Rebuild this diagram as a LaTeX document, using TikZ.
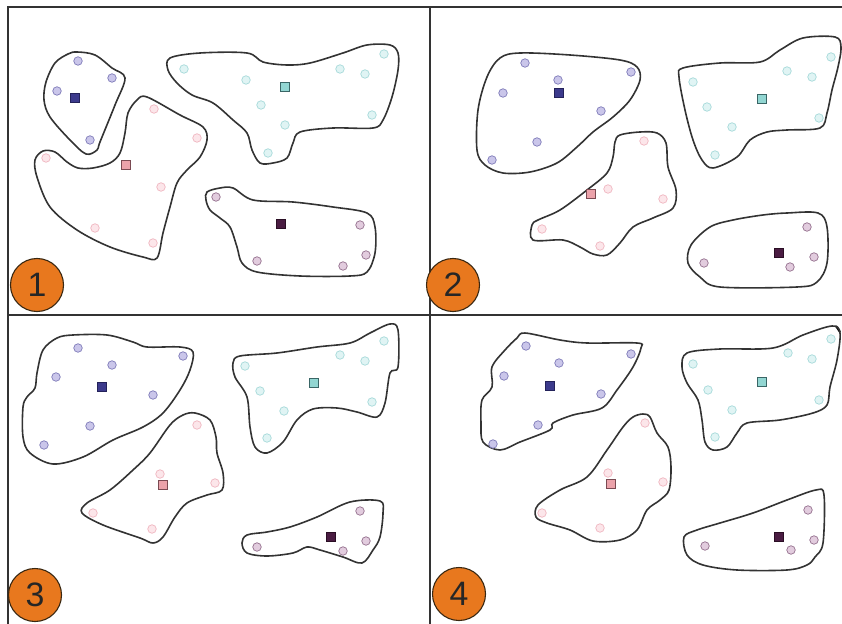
\documentclass[tikz,border=0pt]{standalone}
\usepackage{fontspec}
\setmainfont{Liberation Sans}
\begin{document}
\begin{tikzpicture}[x=1bp,y=-1bp,
  frame/.style={line width=1.4bp,draw=black!80},
  blob/.style={line width=1.6bp,draw=black!80,smooth cycle,tension=0.55},
  dotbase/.style={circle,inner sep=0pt,minimum size=8.5bp,line width=0.7bp},
  bdot/.style={dotbase,fill=bdF,draw=bdD},
  pdot/.style={dotbase,fill=pdF,draw=pdD},
  cdot/.style={dotbase,fill=cdF,draw=cdD},
  mdot/.style={dotbase,fill=mdF,draw=mdD},
  sqbase/.style={rectangle,inner sep=0pt,minimum size=8.5bp,line width=0.7bp},
  bsq/.style={sqbase,fill=bsF,draw=bsD},
  psq/.style={sqbase,fill=psF,draw=psD},
  csq/.style={sqbase,fill=csF,draw=csD},
  msq/.style={sqbase,fill=msF,draw=msD},
  badge/.style={circle,fill=badgeorange,draw=badgeline,line width=1.1bp,minimum size=53bp,inner sep=0pt,
    font=\fontsize{34}{34}\selectfont,text=black!85}
]
\definecolor{bdF}{HTML}{CAC6EA}\definecolor{bdD}{HTML}{7E7AB8}
\definecolor{pdF}{HTML}{FCE6EA}\definecolor{pdD}{HTML}{F0B6C0}
\definecolor{cdF}{HTML}{E0F4F4}\definecolor{cdD}{HTML}{A6DADA}
\definecolor{mdF}{HTML}{E2CCDE}\definecolor{mdD}{HTML}{94708E}
\definecolor{bsF}{HTML}{3C3A8C}\definecolor{bsD}{HTML}{24225A}
\definecolor{psF}{HTML}{EBA2AA}\definecolor{psD}{HTML}{7A4A52}
\definecolor{csF}{HTML}{92D6D2}\definecolor{csD}{HTML}{3A6666}
\definecolor{msF}{HTML}{4A1C42}\definecolor{msD}{HTML}{2A0E24}
\definecolor{badgeorange}{HTML}{E8781E}\definecolor{badgeline}{HTML}{3A2812}
\useasboundingbox (0,0) rectangle (842,624);
\fill[white] (0,0) rectangle (842,624);
% frame
\coordinate (tl) at (8,7); \coordinate (tr) at (842,7);
\coordinate (bl) at (8,624); \coordinate (mt) at (430,7); \coordinate (mb) at (430,624);
\coordinate (ml) at (8,315); \coordinate (mr) at (842,315);
\draw[frame] (tr) -- (tl) -- (bl);
\draw[frame] (mt) -- (mb);
\draw[frame] (ml) -- (mr);
\draw[line width=2bp] (836,326) -- (840,332);

% ---------- Panel 1 ----------
\draw[blob] plot coordinates {(77,52) (95,55) (112,68) (125,78) (115,105) (100,142) (97,150) (86,154) (70,140) (50,117) (44,100) (46,82) (55,63) (68,54)};
\draw[blob] plot coordinates {(147,97) (180,115) (203,127) (207,140) (200,157) (187,170) (177,183) (170,207) (163,233) (157,258) (143,257) (110,247) (77,230) (50,207) (37,177) (35,160) (43,151) (55,152) (67,162) (78,168) (93,168) (110,163) (120,153) (125,133) (128,113) (137,100)};
\draw[blob] plot coordinates {(170,58) (200,53) (247,53) (263,62) (287,65) (310,63) (343,53) (367,45) (390,45) (398,53) (398,70) (392,97) (383,120) (373,128) (333,128) (300,132) (293,143) (287,158) (273,163) (260,163) (252,150) (247,133) (233,120) (213,103) (192,95) (177,83) (168,70)};
\draw[blob] plot coordinates {(207,192) (220,188) (233,188) (253,200) (293,202) (333,207) (367,213) (375,227) (375,253) (367,272) (350,276) (300,276) (257,272) (242,263) (237,247) (230,227) (220,218) (210,210) (206,200)};
\foreach \p in {(78,61),(112,78),(57,91),(90,140)} \node[bdot] at \p {};
\foreach \p in {(154,109),(197,138),(46,158),(161,187),(95,228),(153,243)} \node[pdot] at \p {};
\foreach \p in {(184,69),(246,80),(340,69),(365,74),(384,54),(261,105),(285,125),(372,115),(268,153)} \node[cdot] at \p {};
\foreach \p in {(216,197),(360,225),(366,255),(343,266),(257,261)} \node[mdot] at \p {};
\node[bsq] (s1b) at (75,98) {};
\node[psq] (s1p) at (126,165) {};
\node[csq] (s1c) at (285,87) {};
\node[msq] (s1m) at (281,224) {};

% ---------- Panel 2 ----------
\draw[blob] plot coordinates {(520,53) (570,55) (620,60) (637,67) (640,80) (630,100) (613,117) (593,132) (577,147) (557,163) (530,172) (503,173) (485,165) (477,150) (478,110) (487,77) (500,58)};
\draw[blob] plot coordinates {(620,135) (640,132) (657,133) (666,143) (668,167) (676,190) (673,208) (653,218) (633,227) (620,243) (607,255) (593,254) (580,247) (563,240) (533,240) (532,225) (538,220) (560,210) (587,190) (607,173) (613,157) (615,142)};
\draw[blob] plot coordinates {(683,68) (720,63) (760,62) (780,50) (803,38) (835,37) (841,47) (838,67) (832,90) (827,113) (820,128) (787,130) (767,132) (750,140) (737,157) (713,168) (702,160) (693,140) (685,110) (679,77)};
\draw[blob] plot coordinates {(710,227) (733,220) (763,215) (787,213) (818,213) (827,227) (827,263) (817,282) (797,287) (720,287) (700,277) (688,263) (691,245)};
\foreach \p in {(525,63),(558,80),(631,72),(503,93),(601,111),(537,142),(492,160)} \node[bdot] at \p {};
\foreach \p in {(644,141),(608,189),(663,199),(542,229),(600,246)} \node[pdot] at \p {};
\foreach \p in {(693,82),(707,107),(732,127),(715,155),(787,71),(812,77),(831,57),(819,118)} \node[cdot] at \p {};
\foreach \p in {(807,227),(814,257),(790,267),(704,263)} \node[mdot] at \p {};
\node[bsq] (s2b) at (559,93) {};
\node[psq] (s2p) at (591,194) {};
\node[csq] (s2c) at (762,99) {};
\node[msq] (s2m) at (779,253) {};

% ---------- Panel 3 ----------
\draw[blob] plot coordinates {(73,335) (107,335) (133,342) (147,347) (180,347) (193,352) (190,370) (180,390) (163,413) (143,427) (113,440) (83,457) (53,464) (30,453) (23,437) (23,407) (27,397) (35,388) (37,373) (43,350) (57,338)};
\draw[blob] plot coordinates {(195,413) (210,420) (216,437) (217,453) (223,473) (222,490) (207,495) (187,503) (175,517) (163,537) (153,543) (140,538) (103,525) (82,513) (87,503) (110,490) (133,470) (150,453) (170,425) (183,415)};
\draw[blob] plot coordinates {(240,356) (277,353) (317,347) (350,343) (370,333) (390,324) (398,330) (398,367) (390,373) (385,403) (377,417) (357,412) (337,408) (313,409) (297,420) (283,442) (267,453) (255,447) (250,427) (247,397) (235,377) (233,363)};
\draw[blob] plot coordinates {(247,535) (267,532) (290,527) (317,517) (350,502) (380,501) (383,513) (380,537) (373,550) (362,563) (343,557) (320,550) (307,547) (293,553) (267,556) (247,553) (242,543)};
\foreach \p in {(78,348),(112,365),(183,356),(56,377),(153,395),(90,426),(44,445)} \node[bdot] at \p {};
\foreach \p in {(197,425),(160,474),(215,483),(93,513),(152,529)} \node[pdot] at \p {};
\foreach \p in {(245,366),(260,391),(284,411),(267,438),(340,355),(365,361),(384,341),(372,402)} \node[cdot] at \p {};
\foreach \p in {(360,511),(366,541),(343,551),(257,547)} \node[mdot] at \p {};
\node[bsq] (s3b) at (102,387) {};
\node[psq] (s3p) at (163,485) {};
\node[csq] (s3c) at (314,383) {};
\node[msq] (s3m) at (331,537) {};

% ---------- Panel 4 ----------
\draw[blob] plot coordinates {(525,333) (560,340) (587,343) (637,343) (641,348) (633,367) (617,390) (602,408) (573,415) (553,423) (550,430) (520,442) (500,450) (483,442) (481,423) (482,400) (492,387) (492,367) (505,350) (517,338)};
\draw[blob] plot coordinates {(643,414) (650,417) (657,433) (668,447) (671,467) (669,490) (660,500) (647,510) (637,530) (620,540) (593,541) (570,530) (547,523) (536,517) (538,505) (560,490) (587,477) (607,450) (623,427) (633,417)};
\draw[blob] plot coordinates {(687,353) (720,349) (773,348) (803,335) (832,326) (840,333) (837,360) (830,387) (827,405) (813,413) (780,420) (747,423) (737,433) (727,447) (713,450) (705,442) (702,420) (698,400) (687,383) (682,367)};
\draw[blob] plot coordinates {(697,530) (720,523) (753,513) (787,500) (816,490) (824,495) (823,543) (815,557) (807,565) (787,570) (737,570) (703,565) (687,555) (684,537)};
\foreach \p in {(526,346),(559,363),(631,354),(504,376),(601,394),(538,425),(493,444)} \node[bdot] at \p {};
\foreach \p in {(645,423),(608,473),(663,482),(542,513),(600,528)} \node[pdot] at \p {};
\foreach \p in {(693,364),(708,390),(732,410),(715,437),(788,353),(812,359),(831,339),(819,400)} \node[cdot] at \p {};
\foreach \p in {(808,510),(814,540),(791,550),(705,546)} \node[mdot] at \p {};
\node[bsq] (s4b) at (550,386) {};
\node[psq] (s4p) at (611,484) {};
\node[csq] (s4c) at (762,382) {};
\node[msq] (s4m) at (779,537) {};

% badges
\node[badge] (b1) at (37,285) {1};
\node[badge] (b2) at (453,285) {2};
\node[badge] (b3) at (35,595) {3};
\node[badge] (b4) at (459,594) {4};
\end{tikzpicture}
\end{document}
